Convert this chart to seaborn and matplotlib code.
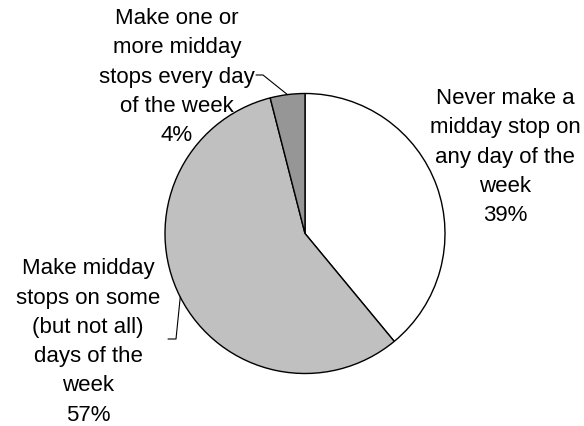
import numpy as np
import matplotlib
matplotlib.use("Agg")
import matplotlib.pyplot as plt
import seaborn as sns

# Data
categories = [
    "Never make a\nmidday stop on\nany day of the\nweek",
    "Make midday\nstops on some\n(but not all)\ndays of the\nweek",
    "Make one or\nmore midday\nstops every day\nof the week",
]
values = [39, 57, 4]
pct_labels = ["39%", "57%", "4%"]
colors = ["#FFFFFF", "#C0C0C0", "#969696"]

sns.set_theme(style="white")
plt.rcParams['font.family'] = ['Liberation Sans', 'DejaVu Sans']

W, H = 584, 427
fig = plt.figure(figsize=(W / 100, H / 100), dpi=100)
cx, cy, R = 305.0, 234.5, 140.0
ax = fig.add_axes([(cx - R) / W, (H - cy - R) / H, 2 * R / W, 2 * R / H])
ax.set_xlim(-1, 1)
ax.set_ylim(-1, 1)
ax.set_aspect("equal")
ax.axis("off")

ax.pie(values, colors=colors, startangle=90, counterclock=False, radius=1.0,
       wedgeprops=dict(edgecolor="black", linewidth=1.0), frame=False)
ax.set_xlim(-1, 1)
ax.set_ylim(-1, 1)

def px(x, y):
    return ((x - cx) / R, (cy - y) / R)

total = float(sum(values))
cum = np.cumsum([0] + values[:-1])
mids = [np.deg2rad(90 - 360 * (c + v / 2) / total) for c, v in zip(cum, values)]

fs = 16
ls = 1.52
label_pos = [px(505, 157), px(88, 342), px(177, 77)]
for i, (cat, pct) in enumerate(zip(categories, pct_labels)):
    x, y = label_pos[i]
    ax.text(x, y, cat + "\n" + pct, ha="center", va="center", fontsize=fs,
            linespacing=ls, color="black", clip_on=False)

# leader lines
leaders = {2: [px(263, 76), px(256, 76)], 1: [px(176, 340), px(168, 340)]}
for i, pts in leaders.items():
    a = mids[i]
    xs = [np.cos(a)] + [p[0] for p in pts]
    ys = [np.sin(a)] + [p[1] for p in pts]
    ax.plot(xs, ys, color="black", linewidth=0.8, clip_on=False)

fig.savefig("out.png", dpi=100, facecolor="white")
